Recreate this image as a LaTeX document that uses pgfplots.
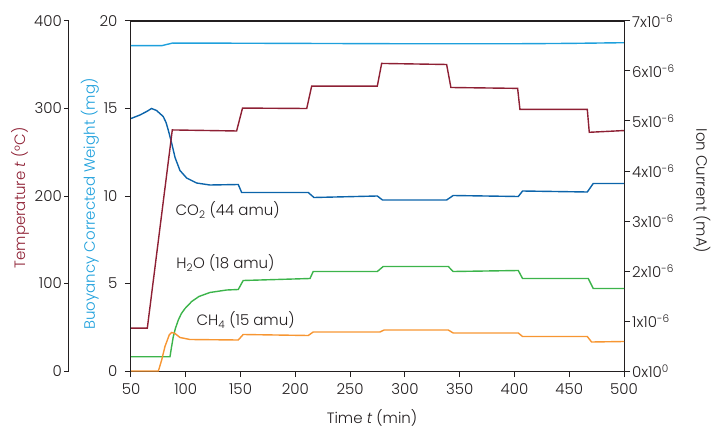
\documentclass[border=0pt]{standalone}
\usepackage{fontspec}
\setmainfont{Poppins Light}
\usepackage{pgfplots}
\pgfplotsset{compat=1.18}

\definecolor{tred}{RGB}{142,32,52}
\definecolor{wblue}{RGB}{30,160,220}
\definecolor{cblue}{RGB}{12,100,170}
\definecolor{hgreen}{RGB}{60,180,75}
\definecolor{morange}{RGB}{247,150,50}
\definecolor{axcol}{RGB}{35,31,32}
\newcommand\lf{\fontsize{15}{18}\selectfont}

\pgfplotsset{
  base/.style={
    width=493pt, height=350pt, scale only axis,
    xmin=50, xmax=500,
    axis line style={axcol, line width=1pt},
    tick style={axcol, line width=1pt},
    major tick length=6pt, tick align=outside,
    every tick label/.append style={font=\lf, text=axcol},
    /pgf/number format/assume math mode=true,
  },
  curve/.style={line width=1.4pt},
}

\begin{document}
\begin{tikzpicture}

% weight (mg) axis with the box
\begin{axis}[base,
    ymin=0, ymax=20,
    xtick={50,100,...,500}, ytick={0,5,...,20},
    xtick pos=left, ytick pos=left,
    xticklabel style={yshift=-3pt},
    yticklabel style={xshift=-4pt},
    clip mode=individual,
]
\coordinate (sw) at (rel axis cs:0,0);
\coordinate (nw) at (rel axis cs:0,1);
\coordinate (ne) at (rel axis cs:1,1);
\addplot[curve, wblue] coordinates {
  (50,18.59) (78,18.59) (82,18.65) (88,18.74) (150,18.73)
  (300,18.70) (400,18.70) (450,18.72) (500,18.76)
};
\node[anchor=west, font=\lf, text=axcol] at (axis cs:87.5,9.2) {CO\textsubscript{2} (44 amu)};
\node[anchor=west, font=\lf, text=axcol] at (axis cs:88.3,6.17) {H\textsubscript{2}O (18 amu)};
\node[anchor=west, font=\lf, text=axcol] at (axis cs:106.6,2.91) {CH\textsubscript{4} (15 amu)};
\end{axis}

% ion current axis (units of 1e-6 mA)
\begin{axis}[base,
    ymin=0, ymax=7,
    axis y line*=right, axis x line=none,
    ytick={0,...,7},
    yticklabels={0x10\textsuperscript{0},1x10\textsuperscript{-6},2x10\textsuperscript{-6},
      3x10\textsuperscript{-6},4x10\textsuperscript{-6},5x10\textsuperscript{-6},
      6x10\textsuperscript{-6},7x10\textsuperscript{-6}},
    yticklabel style={inner sep=1pt, xshift=1pt},
]
% CO2 (44 amu)
\addplot[curve, cblue] coordinates {
  (50,5.05) (58.2,5.12) (64.3,5.19) (68.8,5.25) (73.3,5.21) (79.4,5.09)
  (82,4.97) (84,4.82) (87.1,4.56) (90.2,4.27) (94.7,4.01) (100.8,3.86)
  (109.9,3.76) (122,3.72) (147.9,3.73) (151,3.57) (211.8,3.57) (217,3.47)
  (274.8,3.50) (279.6,3.42) (338.1,3.42) (344.1,3.51) (403.5,3.49)
  (407.4,3.60) (466.5,3.58) (471.9,3.75) (500,3.75)
};
% H2O (18 amu)
\addplot[curve, hgreen] coordinates {
  (50,0.286) (85.6,0.286) (87,0.48) (88.6,0.686) (90.5,0.85) (93.2,1.02)
  (96,1.15) (99.3,1.25) (105.4,1.39) (112,1.49) (122,1.57) (137.3,1.62)
  (147.9,1.63) (152.4,1.81) (213.4,1.85) (216.3,1.99) (274.8,1.99)
  (280.2,2.09) (339.6,2.09) (344.1,1.99) (403.5,2.01) (407.4,1.85)
  (467.4,1.85) (471.9,1.65) (500,1.65)
};
% CH4 (15 amu)
\addplot[curve, morange] coordinates {
  (50,0) (75,0) (78,0.22) (81,0.49) (84.9,0.72) (87.1,0.77) (90.2,0.75)
  (94.7,0.67) (103.8,0.63) (147.9,0.62) (152.4,0.73) (211.8,0.71)
  (216.3,0.78) (277.3,0.78) (281,0.82) (339.6,0.82) (344.1,0.76)
  (403.5,0.76) (407.4,0.69) (466.5,0.69) (470.4,0.58) (500,0.59)
};
\end{axis}

% temperature curve
\begin{axis}[base, ymin=0, ymax=400, hide axis]
\addplot[curve, tred] coordinates {
  (50,49) (64.9,49) (87.7,275.5) (146.4,274.3) (151.8,300.5) (210.4,300)
  (214.9,325.5) (274.8,325.5) (278.8,351.5) (338.1,350.3) (342,324)
  (402.9,323) (405,299) (466.5,299) (468.3,272.8) (500,274.8)
};
\end{axis}

% temperature scale
\begin{axis}[
    width=1pt, height=350pt, scale only axis, xshift=-62pt,
    xmin=0, xmax=1, ymin=0, ymax=400,
    hide x axis, axis y line*=left,
    ytick={0,100,...,400},
    axis line style={axcol, line width=1pt},
    tick style={axcol, line width=1pt},
    major tick length=5pt, tick align=outside,
    every tick label/.append style={font=\lf, text=axcol},
    yticklabel style={inner sep=1pt, xshift=-1pt},
    /pgf/number format/assume math mode=true,
]
\addplot[draw=none] coordinates {(0,0)};
\end{axis}

% top frame line
\draw[axcol, line width=1.2pt] (nw) -- (ne);

% axis titles
\node[rotate=90, inner sep=0pt, font=\lf, text=tred] at ([shift={(-111pt,173pt)}]sw) {Temperature \textit{t} (°C)};
\node[rotate=90, inner sep=0pt, font=\lf, text=wblue] at ([shift={(-41pt,167pt)}]sw) {Buoyancy Corrected Weight (mg)};
\node[rotate=-90, inner sep=0pt, font=\lf, text=axcol] at ([shift={(571pt,180pt)}]sw) {Ion Current (mA)};
\node[inner sep=0pt, font=\lf, text=axcol] at ([shift={(241pt,-47pt)}]sw) {Time \textit{t} (min)};

\path (sw) ++(-131pt,-58pt) rectangle ++(712pt,429pt);
\end{tikzpicture}
\end{document}
